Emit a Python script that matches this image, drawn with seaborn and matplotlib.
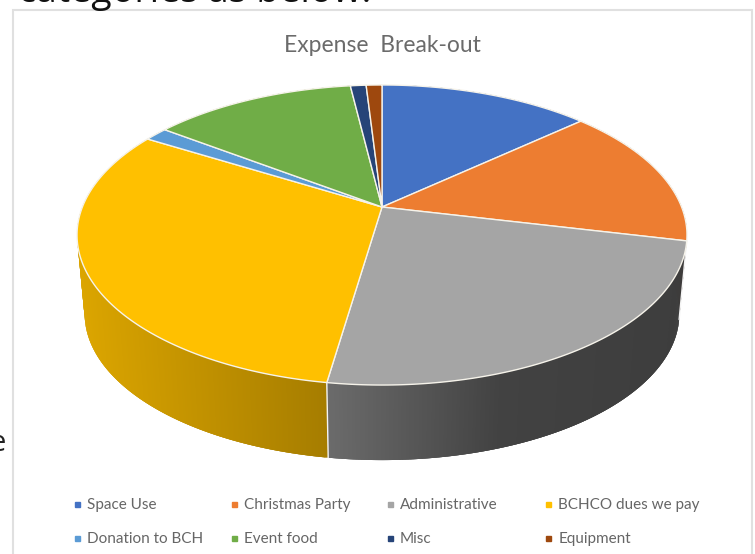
import numpy as np
import matplotlib
matplotlib.use("Agg")
import matplotlib.pyplot as plt
from matplotlib.collections import PolyCollection
from matplotlib.lines import Line2D
from matplotlib.patches import Rectangle
import seaborn as sns

categories = ["Space Use", "Christmas Party", "Administrative", "BCHCO dues we pay",
              "Donation to BCH", "Event food", "Misc", "Equipment"]
expense_share = [13.4, 15.2, 23.8, 31.2, 1.5, 12.9, 1.0, 1.0]
colors = sns.color_palette(["#4472C4", "#ED7D31", "#A5A5A5", "#FFC000",
                            "#5B9BD5", "#70AD47", "#264478", "#9E480E"])
chart_title = "Expense  Break-out"

sns.set_theme(style="white")
plt.rcParams["font.family"] = ["Lato", "DejaVu Sans"]

# Projection of the unit disc: pixel scales and perspective strength
CX, CY = 382.0, 207.0
A, C, K = 299.6, 144.8, 0.1867
WALL_DROP, WALL_SCALE = 79.5, 0.975


def project(theta, drop=0.0, scale=1.0):
    """Screen position of a rim point, theta clockwise from twelve o'clock."""
    x, y = np.sin(theta), np.cos(theta)
    w = 1 + K * y
    return CX + scale * A * x / w, CY + drop - scale * C * y / w


def wall_shade(px):
    return np.interp(px, [78, 326, 500, 690], [0.86, 0.65, 0.40, 0.37])


fig = plt.figure(figsize=(7.55, 5.54), dpi=100, facecolor="white")
ax = fig.add_axes([0, 0, 1, 1])
ax.set_xlim(0, 755)
ax.set_ylim(554, 0)
ax.axis("off")

# Chart frame, running past the lower edge
ax.add_patch(Rectangle((13, 10), 739, 600, fc="white", ec="#e0e0e0", lw=1.5, zorder=0))

edges = np.cumsum([0.0] + expense_share)
edges = edges / edges[-1] * 2 * np.pi

# Side wall: fine overlapping strips, shaded left to right across the front
for i, col in enumerate(colors):
    a0, a1 = edges[i], edges[i + 1]
    steps = max(2, int(np.degrees(a1 - a0) * 4))
    th = np.linspace(a0, a1, steps + 1)
    polys, facecols = [], []
    for j, (t0, t1) in enumerate(zip(th[:-1], th[1:])):
        t2 = th[min(j + 3, steps)]
        xa, ya = project(t0)
        xb, yb = project(t2)
        xc, yc = project(t2, WALL_DROP, WALL_SCALE)
        xd, yd = project(t0, WALL_DROP, WALL_SCALE)
        polys.append([(xa, ya), (xb, yb), (xc, yc), (xd, yd)])
        facecols.append(tuple(np.array(col) * wall_shade((xa + xb) / 2)))
    ax.add_collection(PolyCollection(polys, facecolors=facecols, edgecolors="none",
                                     linewidths=0, zorder=1))

# White seams on the wall where two slices meet at the front
for e in edges[1:-1]:
    if np.pi / 2 < e < 3 * np.pi / 2:
        xa, ya = project(e)
        xb, yb = project(e, WALL_DROP, WALL_SCALE)
        ax.plot([xa, xb], [ya, yb], color="#f4f4f4", lw=1.0, zorder=2)

# Top face slices
for i, col in enumerate(colors):
    th = np.linspace(edges[i], edges[i + 1], 200)
    px, py = project(th)
    ax.fill(np.r_[CX, px], np.r_[CY, py], facecolor=col, edgecolor="#f6f3ea", lw=1.0,
            joinstyle="round", zorder=3)

ax.text(382, 46, chart_title, ha="center", va="center", fontsize=16.5, color="#6b6b6b")

# Legend: one block per column, two rows each
column_left = [(71.7, 498), (228.7, 498), (384.7, 498), (543, 498)]
for col_idx, anchor in enumerate(column_left):
    members = [col_idx, col_idx + 4]
    handles = [Line2D([], [], ls="none", marker="s", ms=3.6, color=colors[m]) for m in members]
    leg = ax.legend(handles, [categories[m] for m in members], loc="upper left",
                    bbox_to_anchor=anchor, bbox_transform=ax.transData, frameon=False,
                    fontsize=11, labelcolor="#666666", handlelength=0.7, handletextpad=0.3,
                    labelspacing=1.33, borderpad=0, borderaxespad=0)
    ax.add_artist(leg)
    ax.legend_ = None

# Surrounding document text, cut off by the crop
ax.text(18, 2, "categories as below:", ha="left", va="baseline", fontsize=27,
        family="Open Sans", color="#111111", clip_on=True)
ax.text(-11, 451, "e", ha="left", va="baseline", fontsize=21, family="Open Sans",
        color="#222222", clip_on=True)

fig.savefig("out.png", dpi=100)
